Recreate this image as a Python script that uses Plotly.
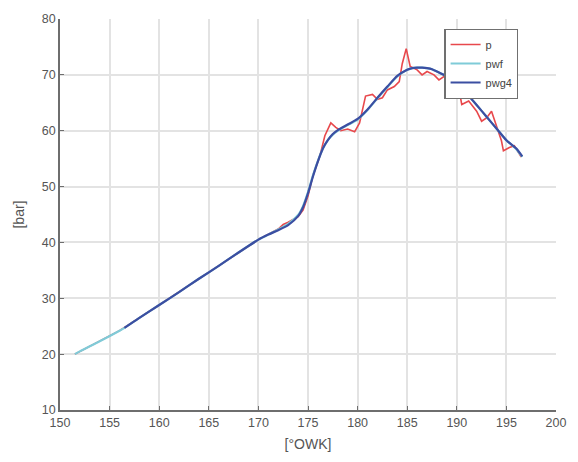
import plotly.graph_objects as go

# Smoothed curve (pwf / pwg4)
x_s = [151.5, 152, 154, 156, 156.5, 158, 160, 162, 164, 166, 168, 170, 171, 172, 173, 174,
       174.5, 175, 175.5, 176, 176.5, 177, 177.5, 178, 179, 180, 181, 182, 183, 184, 185,
       185.5, 186, 186.5, 187, 187.5, 188, 189, 190, 191, 192, 193, 194, 195, 196, 196.6]
pwf = [20, 20.5, 22.3, 24.2, 24.7, 26.5, 28.8, 31.1, 33.5, 35.8, 38.2, 40.5, 41.4, 42.3, 43.3, 44.9,
       46.5, 49, 52, 54.6, 56.8, 58.3, 59.3, 60, 61, 62, 63.7, 65.8, 67.8, 69.7, 70.9,
       71.2, 71.3, 71.3, 71.2, 71, 70.6, 69.7, 68.3, 66.6, 64.6, 62.5, 60.4, 58.3, 56.7, 55.3]
x_g4 = [156.5, 158, 160, 162, 164, 166, 168, 170, 171, 172, 173, 174,
        174.5, 175, 175.5, 176, 176.5, 177, 177.5, 178, 179, 180, 181, 182, 183, 184, 185,
        185.5, 186, 186.5, 187, 187.5, 188, 189, 190, 191, 192, 193, 194, 195, 196, 196.6]
pwg4 = [24.7, 26.5, 28.8, 31.1, 33.5, 35.8, 38.2, 40.5, 41.4, 42.2, 43.1, 44.7,
        46.3, 48.8, 51.8, 54.5, 56.8, 58.3, 59.4, 60.1, 61.1, 62.1, 63.8, 65.9, 67.9, 69.8, 70.9,
        71.2, 71.3, 71.3, 71.2, 71.0, 70.6, 69.7, 68.3, 66.6, 64.6, 62.5, 60.4, 58.3, 56.8, 55.4]

# Raw pressure p
x_p = [151.5, 156, 160, 165, 170, 172, 172.5, 173, 174, 174.5, 175, 175.5, 176.2, 176.7, 177.3,
       177.8, 178.3, 179, 179.7, 180.2, 180.8, 181.5, 182, 182.5, 183, 183.7, 184.2, 184.5, 184.9,
       185.3, 186, 186.5, 187, 187.7, 188.2, 188.7, 189.3, 190.2, 190.5, 191.2, 192, 192.5, 193,
       193.5, 194, 194.5, 194.7, 195.3, 195.8, 196.5]
p = [20, 24.2, 28.8, 34.6, 40.5, 42.4, 43.2, 43.6, 44.6, 45.8, 48.3, 52, 55.5, 59.1, 61.4,
     60.6, 60, 60.3, 59.8, 61.4, 66.2, 66.5, 65.6, 65.9, 67.3, 67.9, 68.8, 72, 74.7,
     71.5, 70.9, 70, 70.6, 70, 69.1, 69.7, 69.5, 67.6, 64.7, 65.3, 63.5, 61.7, 62.3,
     63.5, 60.9, 58.2, 56.4, 57, 57.3, 55.3]

x_ticks = list(range(150, 201, 5))
y_ticks = list(range(10, 81, 10))

fig = go.Figure()
fig.add_trace(go.Scatter(x=x_p, y=p, mode="lines", name="p",
                         line=dict(color="#e8484c", width=1.6)))
fig.add_trace(go.Scatter(x=x_s, y=pwf, mode="lines", name="pwf",
                         line=dict(color="#7fcbd8", width=2.2, shape="spline", smoothing=0.6)))
fig.add_trace(go.Scatter(x=x_g4, y=pwg4, mode="lines", name="pwg4",
                         line=dict(color="#3b4ea2", width=2.2, shape="spline", smoothing=0.6)))

axis_common = dict(showgrid=True, gridcolor="#e3e3e3", gridwidth=1.5,
                   showline=True, linecolor="#6e6e6e", linewidth=1.5,
                   ticks="inside", ticklen=4, tickcolor="#6e6e6e",
                   tickfont=dict(family="Liberation Sans, Arial", size=12.5, color="#555555"),
                   zeroline=False, mirror=False)

fig.update_layout(
    width=578, height=462,
    margin=dict(l=60, r=18, t=15, b=51),
    paper_bgcolor="white", plot_bgcolor="white",
    showlegend=True,
    legend=dict(x=0.775, y=0.975, xanchor="left", yanchor="top",
                bordercolor="#707070", borderwidth=1.2, bgcolor="white",
                font=dict(family="Liberation Sans, Arial", size=11, color="#444444"),
                tracegroupgap=0, itemwidth=30),
    xaxis=dict(range=[150, 200], tickvals=x_ticks,
               title=dict(text="[°OWK]", standoff=10,
                          font=dict(family="Liberation Sans, Arial", size=14, color="#555555")),
               **axis_common),
    yaxis=dict(range=[10, 80], tickvals=y_ticks,
               title=dict(text="[bar]", standoff=14,
                          font=dict(family="Liberation Sans, Arial", size=14, color="#555555")),
               **axis_common),
)

fig.write_html("out.html")
